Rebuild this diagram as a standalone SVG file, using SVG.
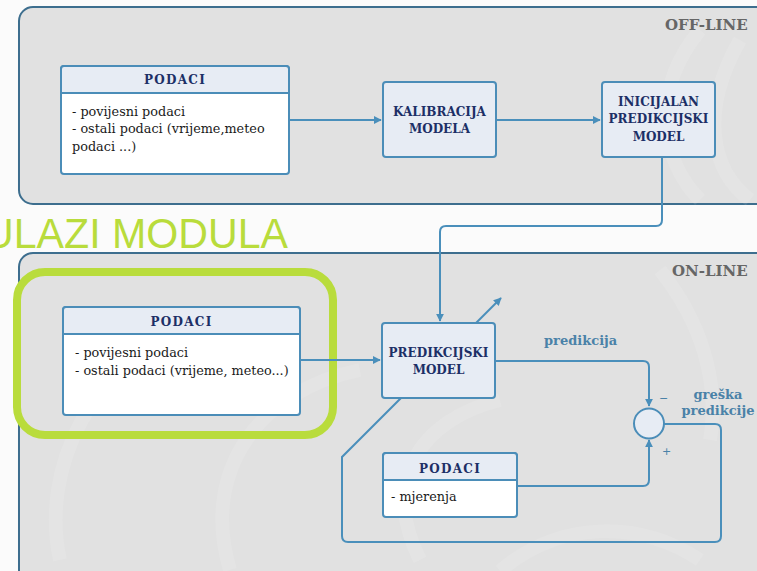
<svg xmlns="http://www.w3.org/2000/svg" width="757" height="571" viewBox="0 0 757 571">
  <defs>
    <marker id="arrow" viewBox="0 0 10 10" refX="9" refY="5" markerWidth="8" markerHeight="8" markerUnits="userSpaceOnUse" orient="auto">
      <path d="M0,0 L10,5 L0,10 z" fill="#4a8fbb"/>
    </marker>
    <style>
      .panel { fill: #e1e1e1; stroke: #3d6e8e; stroke-width: 2; }
      .serif { font-family: "DejaVu Serif", "Liberation Serif", serif; }
      .panel-title { font-weight: bold; font-size: 15px; fill: #666666; }
      .box { fill: #e7ecf4; stroke: #4b8db8; stroke-width: 2; }
      .body { fill: #ffffff; stroke: #4b8db8; stroke-width: 2; }
      .hdr { font-weight: bold; font-size: 12px; fill: #1c2f66; letter-spacing: 1.3px; text-anchor: middle; }
      .title { font-weight: bold; font-size: 12px; fill: #1c2f66; text-anchor: middle; }
      .txt { font-size: 12.8px; fill: #1a1a1a; }
      .lbl { font-weight: bold; font-size: 13px; fill: #4a82a8; }
      .sign { font-family: "DejaVu Sans", sans-serif; font-size: 11px; fill: #4a82a8; }
      .conn { fill: none; stroke: #4a8fbb; stroke-width: 2; }
      .swirl { fill: none; stroke: #ffffff; stroke-opacity: 0.1; stroke-width: 14; }
    </style>
  </defs>

  <rect width="757" height="571" fill="#fbfbfb"/>

  <!-- panels -->
  <rect class="panel" x="19" y="7" width="760" height="197" rx="14"/>
  <rect class="panel" x="19" y="253" width="760" height="340" rx="14"/>

  <!-- faint background swirl -->
  <g class="swirl">
    <path d="M700,30 C650,90 660,160 700,200"/>
    <path d="M740,40 C700,110 710,170 750,200"/>
    <path d="M60,560 C40,470 90,360 200,320"/>
    <path d="M230,570 C200,470 260,390 360,370"/>
    <path d="M420,560 C380,480 420,420 500,400"/>
    <path d="M500,571 C560,520 640,520 700,560"/>
    <path d="M660,270 C700,320 720,380 710,440"/>
  </g>

  <g class="serif">
    <text class="panel-title" x="665" y="30">OFF-LINE</text>
    <text class="panel-title" x="672" y="276">ON-LINE</text>
  </g>

  <!-- heading -->
  <text x="-16" y="248" font-family="'Liberation Sans', sans-serif" font-size="42" fill="#b9dc3c" textLength="304" lengthAdjust="spacingAndGlyphs">ULAZI MODULA</text>

  <!-- highlight frame -->
  <rect x="17" y="272" width="316" height="163" rx="28" fill="none" stroke="#b9dc3c" stroke-width="8"/>

  <!-- connectors -->
  <g id="connectors">
    <path class="conn" d="M289,120 H381" marker-end="url(#arrow)"/>
    <path class="conn" d="M496,120 H600" marker-end="url(#arrow)"/>
    <path class="conn" d="M662,157 V220 Q662,226 656,226 H446 Q440,226 440,232 V321" marker-end="url(#arrow)"/>
    <path class="conn" d="M476,323 L501,298" marker-end="url(#arrow)"/>
    <path class="conn" d="M300,360 H380" marker-end="url(#arrow)"/>
    <path class="conn" d="M495,361 H643 Q649,361 649,367 V406" marker-end="url(#arrow)"/>
    <path class="conn" d="M517,486 H643 Q649,486 649,480 V440" marker-end="url(#arrow)"/>
    <path class="conn" d="M664,424 H715 Q721,424 721,430 V536 Q721,542 715,542 H348 Q342,542 342,536 V457 L401,398"/>
  </g>

  <g class="serif">
    <!-- off-line nodes -->
    <g id="podaci-offline">
      <rect class="body" x="61" y="66" width="228" height="108" rx="3"/>
      <path class="box" d="M61,93 V69 Q61,66 64,66 H286 Q289,66 289,69 V93 Z"/>
      <text class="hdr" x="175" y="84">PODACI</text>
      <text class="txt" x="72" y="116">- povijesni podaci</text>
      <text class="txt" x="72" y="133">- ostali podaci (vrijeme,meteo</text>
      <text class="txt" x="72" y="151">podaci ...)</text>
    </g>

    <g id="kalibracija">
      <rect class="box" x="383" y="82" width="113" height="75" rx="3"/>
      <text class="title" x="439.5" y="116">KALIBRACIJA</text>
      <text class="title" x="439.5" y="133">MODELA</text>
    </g>

    <g id="inicijalan">
      <rect class="box" x="602" y="82" width="113" height="75" rx="3"/>
      <text class="title" x="658.5" y="106">INICIJALAN</text>
      <text class="title" x="658.5" y="123">PREDIKCIJSKI</text>
      <text class="title" x="658.5" y="141">MODEL</text>
    </g>

    <!-- on-line nodes -->
    <g id="podaci-online">
      <rect class="body" x="63" y="307" width="237" height="108" rx="3"/>
      <path class="box" d="M63,334 V310 Q63,307 66,307 H297 Q300,307 300,310 V334 Z"/>
      <text class="hdr" x="181.5" y="326">PODACI</text>
      <text class="txt" x="75" y="357">- povijesni podaci</text>
      <text class="txt" x="75" y="375">- ostali podaci (vrijeme, meteo...)</text>
    </g>

    <g id="predikcijski">
      <rect class="box" x="382" y="323" width="113" height="75" rx="3"/>
      <text class="title" x="438.5" y="357">PREDIKCIJSKI</text>
      <text class="title" x="438.5" y="374">MODEL</text>
    </g>

    <g id="podaci-mjerenja">
      <rect class="body" x="383" y="453" width="134" height="64" rx="3"/>
      <path class="box" d="M383,480 V456 Q383,453 386,453 H514 Q517,453 517,456 V480 Z"/>
      <text class="hdr" x="450" y="473">PODACI</text>
      <text class="txt" x="391" y="501">- mjerenja</text>
    </g>

    <g id="sumator">
      <circle class="box" cx="649" cy="423.5" r="15"/>
      <text class="sign" x="659" y="402">−</text>
      <text class="sign" x="662" y="455">+</text>
    </g>

    <!-- labels -->
    <text class="lbl" x="544" y="345">predikcija</text>
    <text class="lbl" x="718" y="399" text-anchor="middle">greška</text>
    <text class="lbl" x="718" y="415" text-anchor="middle">predikcije</text>
  </g>
</svg>
